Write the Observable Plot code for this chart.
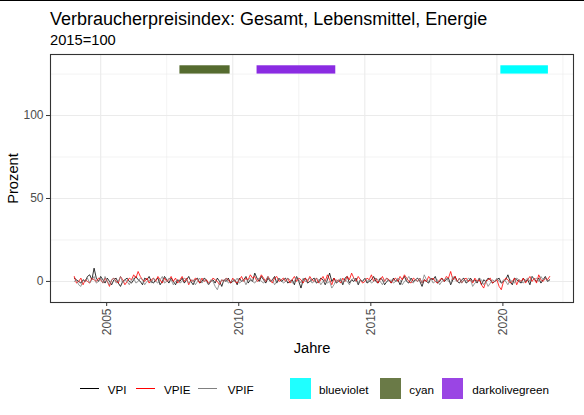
<!DOCTYPE html>
<html>
<head>
<meta charset="utf-8">
<script src="https://cdn.jsdelivr.net/npm/d3@7"></script>
<script src="https://cdn.jsdelivr.net/npm/@observablehq/plot@0.6"></script>
<style>
  body { margin: 0; background: #fff; }
  #fig { position: relative; width: 584px; height: 415px; overflow: hidden;
         font-family: "Liberation Sans", Arial, sans-serif; background: #fff; }
  #topline { position: absolute; left: 0; top: 0; width: 584px; height: 1px; background: #000; }
  .t { position: absolute; line-height: 1; white-space: nowrap; color: #000; }
  #title { left: 50px; top: 9.5px; font-size: 18px; }
  #subtitle { left: 50px; top: 32.6px; font-size: 14.7px; }
  #chart { position: absolute; left: 0; top: 0; }
  #chart svg g[aria-label="x-axis label"],
  #chart svg g[aria-label="y-axis label"] { fill: #000; font-size: 14.7px; }
  .leg-line { position: absolute; height: 1px; top: 388px; }
  .leg-key { position: absolute; top: 377.7px; width: 21px; height: 21.3px; }
  .leg-txt { position: absolute; top: 384.4px; font-size: 11.7px; line-height: 1; white-space: nowrap; color: #000; }
</style>
</head>
<body>
<div id="fig">
  <div id="topline"></div>
  <div id="chart"></div>
  <div class="t" id="title">Verbraucherpreisindex: Gesamt, Lebensmittel, Energie</div>
  <div class="t" id="subtitle">2015=100</div>
  <div id="legend"></div>
</div>
<script>
// Monthly rates (percent), January 2004 through January 2022
const startYear = 2004;
const seriesNames = ["VPI", "VPIE", "VPIF"];
const seriesColors = ["black", "red", "gray"];

const vpi = [
  2, 1, 0, -1, 1, 0, 3, 4, 1, 8, 2, 0,
  3, 1, -1, 2, 0, -2, 1, 2, -1, -3, 0, 1,
  2, 0, -1, 1, 3, 1, 0, -2, 2, 1, 3, 0,
  -1, 1, 2, -2, 0, 3, 1, -1, 2, 0, -2, 1,
  0, 2, -1, 1, 3, 0, -2, 1, 2, -1, 0, 2,
  1, -2, 0, 1, -1, 2, 0, -3, 1, 0, 2, -1,
  0, 1, -2, 2, 0, 1, 3, -1, 1, 0, 5, 2,
  0, 3, 1, -1, 2, 0, 1, 3, -1, 2, 0, 1,
  2, -1, 0, 1, -2, 3, 0, -4, 1, 2, -1, 0,
  1, 2, -1, 0, 2, 1, -2, 1, 5, 0, 2, -1,
  0, 1, -2, 2, 3, -1, 1, 0, 2, -2, 1, 0,
  2, -1, 0, 1, 3, 0, -1, 2, 1, -2, 0, 1,
  -1, 2, 0, 1, -2, 1, 3, 0, -1, 2, 0, 1,
  2, 0, -3, 1, 0, -1, 2, 1, 3, -1, 0, 2,
  0, 1, 2, -2, 1, 3, 0, -1, 1, 2, -1, 0,
  2, 0, 1, -1, 2, -2, 1, 0, 2, 1, -1, 0,
  1, 2, -1, 0, 1, 4, 0, -2, 2, 1, 0, -1,
  2, 0, 1, -2, 3, 1, 0, 2, -1, 1, 3, 0,
  1
];

const vpie = [
  3, -1, 0, 2, -2, 1, 0, -1, 2, 1, 0, 2,
  1, -1, 2, 0, -3, 1, 2, 0, -1, 3, 1, -2,
  0, 2, 1, 4, 2, 6, 3, 1, 0, 2, -1, 1,
  2, 0, 3, 1, -1, 2, 0, 1, 3, 0, 2, -1,
  1, 3, 0, 2, -2, 1, 0, 2, 1, -1, 2, 0,
  1, -1, 0, 2, 1, 0, -2, 1, 0, 2, 1, -1,
  2, 0, -1, 1, 3, 0, 2, 1, 4, 2, 3, 0,
  1, 4, 2, 0, 3, 1, -1, 2, 3, 0, 1, 2,
  0, 2, -1, 1, 3, 0, 2, 1, -1, 2, 0, 3,
  1, 0, 2, -1, 1, 3, 0, 4, 1, -2, 2, 0,
  1, -1, 2, 0, 3, 1, 5, 2, 0, 3, 1, -1,
  0, 2, 1, 4, 0, 2, -1, 1, 3, 0, 2, 1,
  -1, 1, 2, 0, 3, 1, 4, 2, 0, -1, 2, 1,
  0, 2, -1, 1, 0, 3, 1, 2, 0, -1, 1, 2,
  0, 3, 2, 6, 1, 3, 0, 2, -1, 1, 2, 0,
  1, -1, 2, 0, 1, -2, -4, 0, 1, 2, -1, 0,
  1, -3, -5, 0, 2, 1, -1, 0, 2, -2, 1, 0,
  2, -1, 1, 3, 0, 2, -1, 4, 1, 0, 2, 1,
  3
];

const vpif = [
  0, 1, -2, -3, 1, 0, 2, -1, 1, 3, -1, 0,
  2, -1, 3, 0, -2, 1, 2, -1, 0, 3, -1, 1,
  0, -2, 1, 2, -1, 0, 2, 1, -2, 0, 1, -1,
  2, 0, -1, 1, 3, -1, 0, 2, 1, -2, 0, 1,
  -1, 0, 2, 1, -1, 0, 1, -2, 0, 2, -1, 1,
  0, -2, 1, 0, -3, -5, -1, 1, 0, 2, -1, 0,
  1, 0, 2, -1, 0, 1, -2, 1, 2, 0, -1, 1,
  2, 0, -1, 1, 3, 0, 1, -2, 0, 2, 1, -1,
  0, 2, 1, -1, 0, 3, 1, -1, 2, 0, 1, 2,
  -1, 0, 2, 1, -2, 0, 1, -1, 0, -4, -2, 1,
  0, 2, -1, 1, 0, -2, 1, 2, 0, -1, 1, 0,
  2, 0, 1, -1, 0, 2, 1, 0, -2, 1, 2, 0,
  1, -1, 0, 2, 1, -2, 0, 1, 3, 0, -1, 1,
  0, 2, -1, 4, 1, 0, 2, -1, 0, 1, -2, 0,
  1, 2, 0, -1, 3, 1, 0, 2, -1, 1, 0, 2,
  1, -3, -1, 0, 2, 1, -2, 0, -3, -1, 1, 0,
  2, 0, -1, 1, 0, -2, 1, 0, -1, 2, 1, 0,
  -1, 1, 2, 0, 3, 1, 2, 0, 3, 1, 2, 0,
  1
];

// Highlighted periods drawn as bands near the top of the panel
const periodStart = [2008.0, 2010.92, 2020.15];
const periodEnd = [2009.9, 2013.9, 2021.95];
const periodFill = ["darkolivegreen", "blueviolet", "cyan"];
const bandLow = 125;
const bandHigh = 130;

// Legend entries for the bands
const keyLabels = ["blueviolet", "cyan", "darkolivegreen"];
const keyColors = ["#1fffff", "#6a7a47", "#9a45e4"];

// Axis ticks and grid
const xTicks = [2005, 2010, 2015, 2020];
const xMinor = [2007.5, 2012.5, 2017.5, 2022.5];
const yTicks = [0, 50, 100];
const yMinor = [25, 75, 125];

// Build long-format table for the lines
const lineRows = [];
[vpi, vpie, vpif].forEach((vals, s) => {
  vals.forEach((v, i) => {
    lineRows.push({ t: startYear + i / 12, value: v, series: seriesNames[s], color: seriesColors[s] });
  });
});
const periods = periodStart.map((s, i) => ({ start: s, end: periodEnd[i], low: bandLow, high: bandHigh, fill: periodFill[i] }));

const grid = "#ebebeb";
const chart = Plot.plot({
  width: 584,
  height: 360,
  marginTop: 54,
  marginBottom: 58,
  marginLeft: 50,
  marginRight: 11,
  style: { fontFamily: "'Liberation Sans', Arial, sans-serif", fontSize: "12px", background: "transparent" },
  x: { domain: [2003.1, 2022.9] },
  y: { domain: [-12.7, 136.8] },
  color: { type: "identity" },
  marks: [
    Plot.ruleX(xMinor, { stroke: grid, strokeWidth: 0.6 }),
    Plot.ruleY(yMinor, { stroke: grid, strokeWidth: 0.6 }),
    Plot.ruleX(xTicks, { stroke: grid, strokeWidth: 1.1 }),
    Plot.ruleY(yTicks, { stroke: grid, strokeWidth: 1.1 }),
    Plot.rect(periods, { x1: "start", x2: "end", y1: "low", y2: "high", fill: "fill" }),
    Plot.line(lineRows, { x: "t", y: "value", z: "series", stroke: "color", strokeWidth: 0.8 }),
    Plot.frame({ stroke: "#333", strokeWidth: 1.1 }),
    Plot.axisY({ ticks: yTicks, tickSize: 4, tickPadding: 3, stroke: "#333", fill: "#4d4d4d",
      label: "Prozent", labelAnchor: "center", labelOffset: 43, labelArrow: "none" }),
    Plot.axisX({ ticks: xTicks, tickSize: 4, tickPadding: 2, tickRotate: -90, dx: 6, stroke: "#333", fill: "#4d4d4d",
      tickFormat: d => String(d), label: "Jahre", labelAnchor: "center", labelOffset: 50, labelArrow: "none" })
  ]
});
document.getElementById("chart").appendChild(chart);

// Legend below the chart
const legend = document.getElementById("legend");
const lineKeyX = [80, 136, 198];
const lineTextX = [107.7, 164, 227.7];
seriesNames.forEach((name, i) => {
  const ln = document.createElement("div");
  ln.className = "leg-line";
  ln.style.left = lineKeyX[i] + "px";
  ln.style.width = "19px";
  ln.style.background = seriesColors[i];
  legend.appendChild(ln);
  const tx = document.createElement("div");
  tx.className = "leg-txt";
  tx.style.left = lineTextX[i] + "px";
  tx.textContent = name;
  legend.appendChild(tx);
});
const keyX = [290, 380, 441.7];
const keyTextX = [319, 409.3, 472.3];
keyLabels.forEach((name, i) => {
  const k = document.createElement("div");
  k.className = "leg-key";
  k.style.left = keyX[i] + "px";
  k.style.background = keyColors[i];
  legend.appendChild(k);
  const tx = document.createElement("div");
  tx.className = "leg-txt";
  tx.style.left = keyTextX[i] + "px";
  tx.textContent = name;
  legend.appendChild(tx);
});
</script>
</body>
</html>
